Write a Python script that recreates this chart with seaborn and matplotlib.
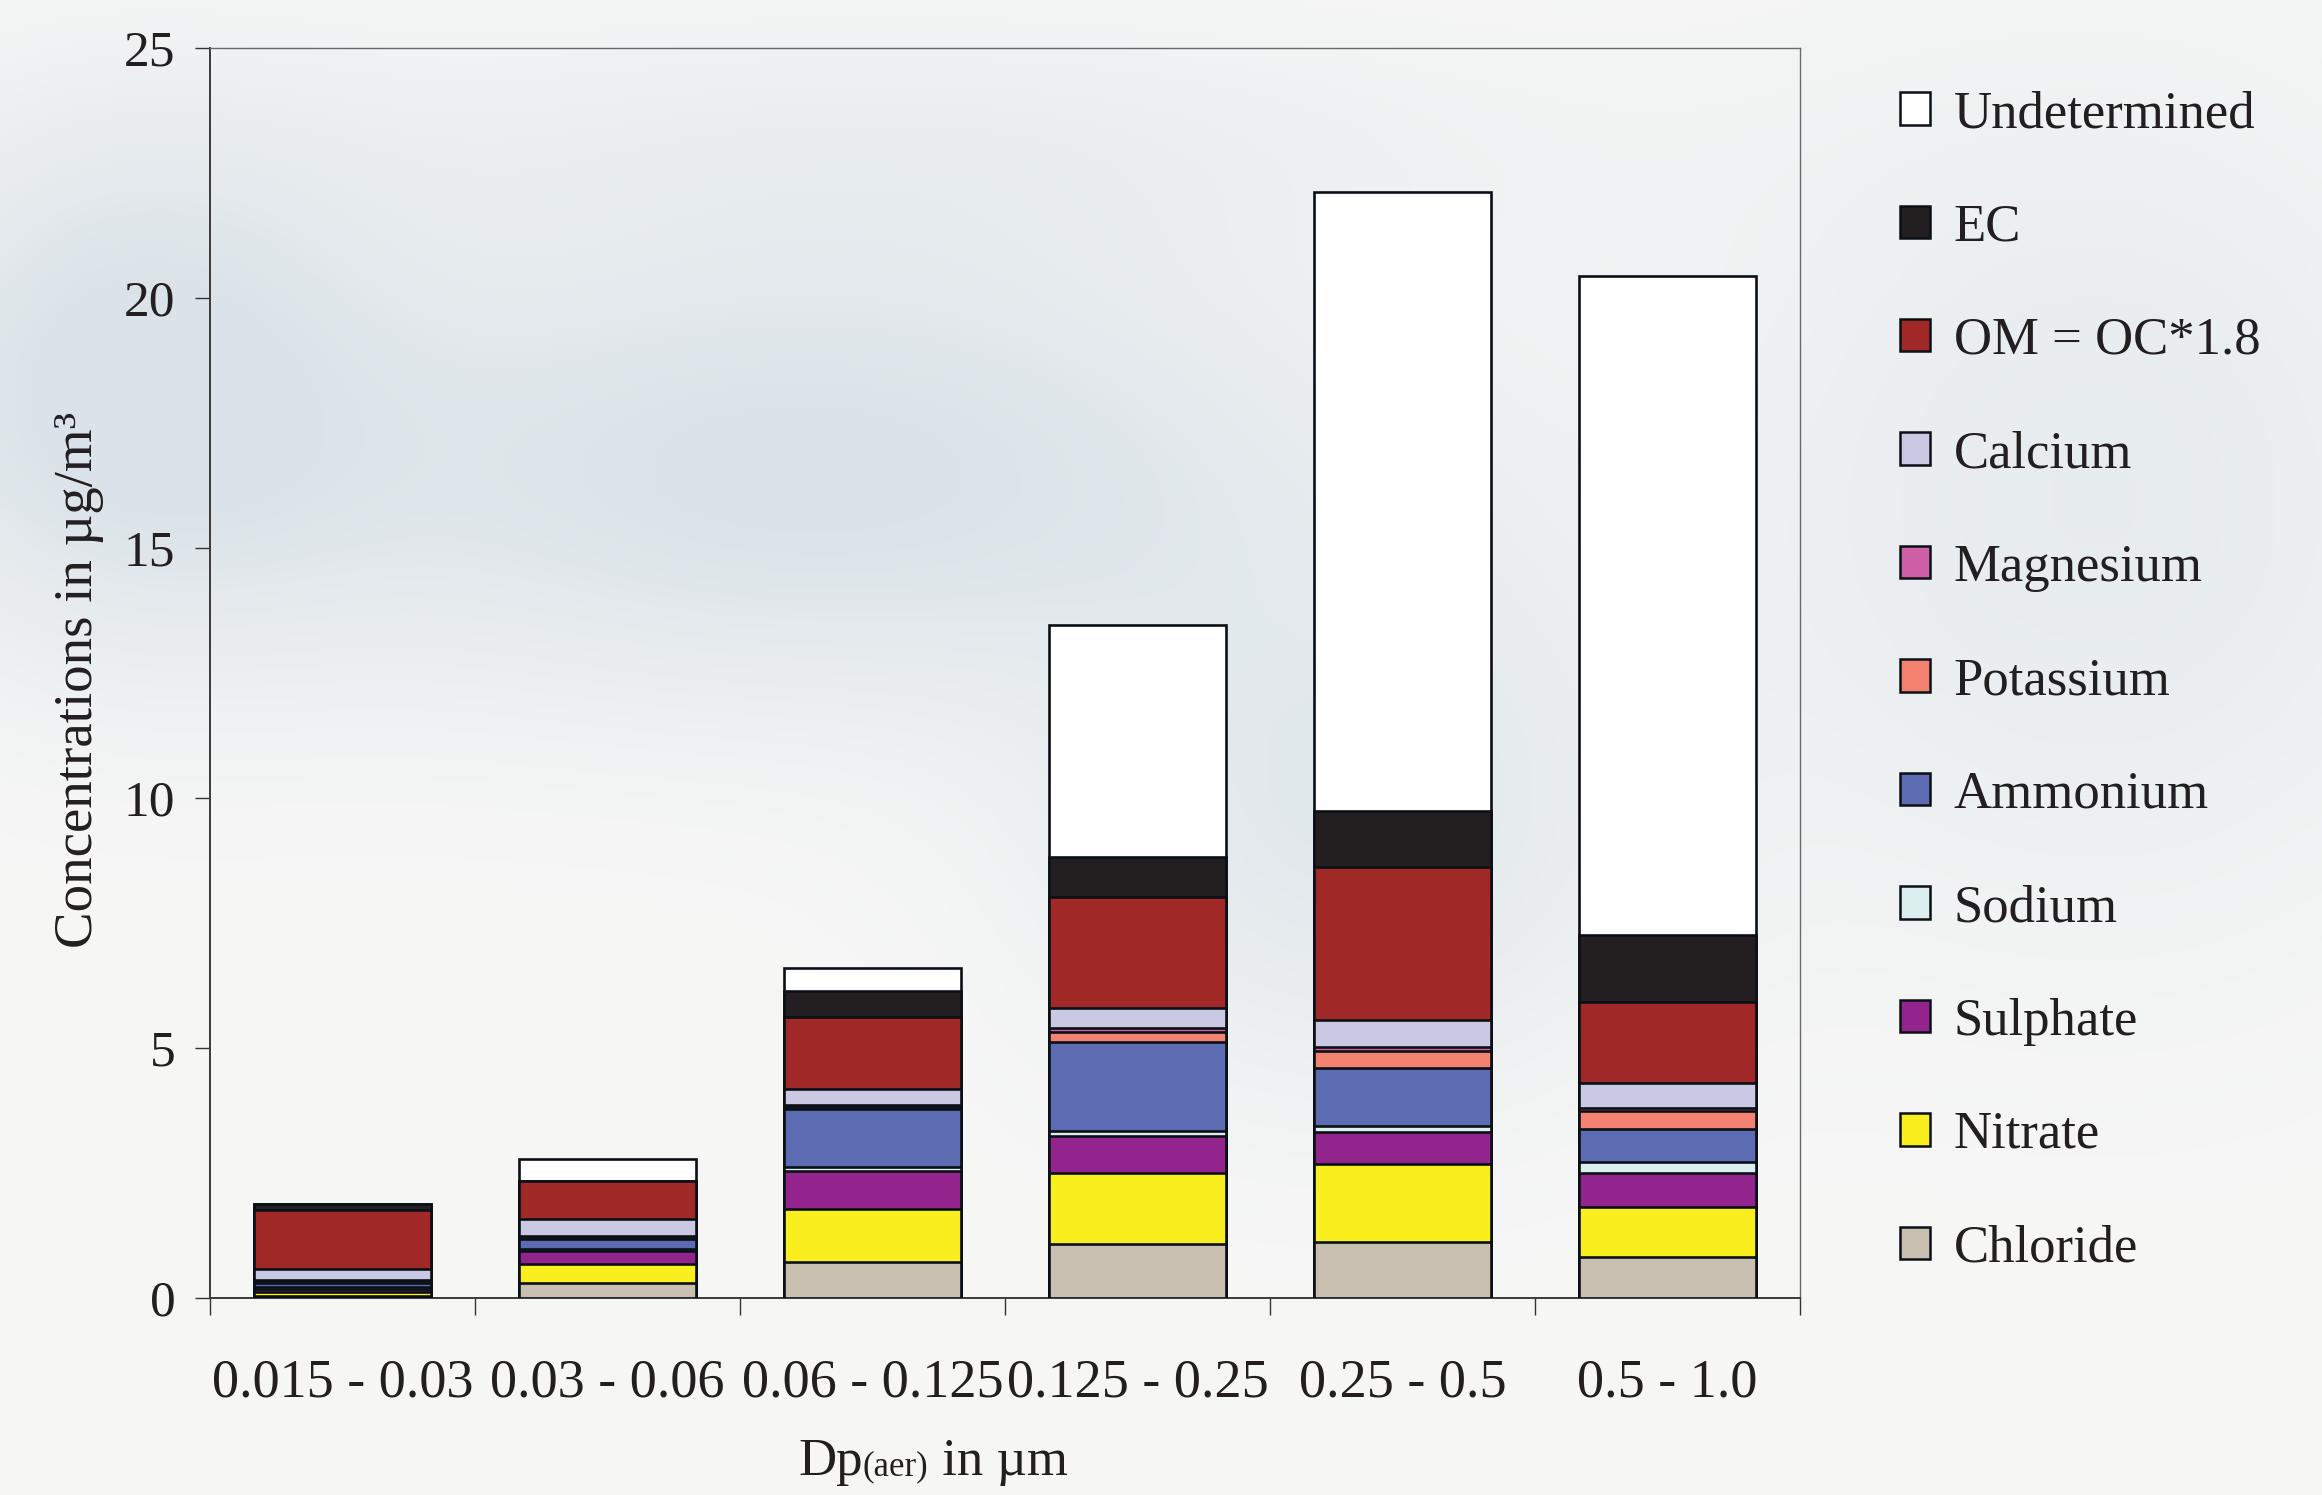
import numpy as np
import pandas as pd
import matplotlib
matplotlib.use("Agg")
import matplotlib.pyplot as plt
from matplotlib.patches import Patch
from matplotlib.offsetbox import TextArea, HPacker, AnchoredOffsetbox
import seaborn as sns

# Size-resolved aerosol composition (µg/m³), one list per component, bottom to top
size_bins = ["0.015 - 0.03", "0.03 - 0.06", "0.06 - 0.125", "0.125 - 0.25", "0.25 - 0.5", "0.5 - 1.0"]
chloride      = [0.04, 0.30, 0.71, 1.08, 1.12, 0.81]
nitrate       = [0.07, 0.37, 1.06, 1.42, 1.56, 1.00]
sulphate      = [0.07, 0.27, 0.77, 0.74, 0.63, 0.69]
sodium        = [0.04, 0.04, 0.07, 0.09, 0.13, 0.22]
ammonium      = [0.07, 0.20, 1.16, 1.79, 1.15, 0.65]
potassium     = [0.04, 0.03, 0.05, 0.20, 0.35, 0.37]
magnesium     = [0.03, 0.03, 0.03, 0.07, 0.07, 0.05]
calcium       = [0.22, 0.33, 0.32, 0.40, 0.54, 0.50]
organic_mat   = [1.18, 0.77, 1.45, 2.23, 3.06, 1.63]
elemental_c   = [0.11, 0.00, 0.51, 0.80, 1.12, 1.34]
undetermined  = [0.00, 0.43, 0.47, 4.64, 12.39, 13.18]

components = ["Chloride", "Nitrate", "Sulphate", "Sodium", "Ammonium", "Potassium",
              "Magnesium", "Calcium", "OM = OC*1.8", "EC", "Undetermined"]
colours = ["#c8bfb1", "#f9ef1e", "#93248e", "#dbefee", "#5d6bb2", "#f48270",
           "#cc5fa5", "#c9c9e4", "#a02826", "#231f20", "#ffffff"]
series = [chloride, nitrate, sulphate, sodium, ammonium, potassium,
          magnesium, calcium, organic_mat, elemental_c, undetermined]

sns.set_theme(style="white")
plt.rcParams["font.family"] = ["Liberation Serif", "DejaVu Serif"]

W, H = 2322, 1495
fig = plt.figure(figsize=(W / 100, H / 100), dpi=100)
ink = "#231f20"

# soft cloudy-sky backdrop
yy, xx = np.mgrid[0:H:4, 0:W:4].astype(float)
base = np.array([247, 247, 246], float)
shade = np.zeros_like(xx)
def blob(cx, cy, sx, sy, a):
    return a * np.exp(-(((xx - cx) / sx) ** 2 + ((yy - cy) / sy) ** 2))
shade += blob(800, 470, 560, 230, 1.0)
shade += blob(120, 380, 260, 260, 0.9)
shade += blob(1350, 820, 300, 260, 0.7)
shade += blob(2100, 500, 380, 420, 0.55)
shade += blob(900, 150, 700, 140, 0.35)
shade = np.clip(shade, 0, 1)
target = np.array([218, 227, 233], float)
img = base[None, None, :] * (1 - shade[..., None]) + target[None, None, :] * shade[..., None]
bg = fig.add_axes([0, 0, 1, 1], zorder=-10)
bg.imshow(img.astype(np.uint8), aspect="auto", extent=[0, 1, 0, 1], interpolation="bicubic")
bg.set_axis_off()

ax = fig.add_axes([210 / W, 1 - 1298 / H, (1800 - 210) / W, (1298 - 47.5) / H])
ax.set_facecolor("none")

# stacked bars: draw cumulative totals from the top component down
df = pd.DataFrame({name: vals for name, vals in zip(components, series)}, index=size_bins)
cum = df.cumsum(axis=1)
for name, col in reversed(list(zip(components, colours))):
    sns.barplot(x=size_bins, y=cum[name].values, color=col, width=0.67, saturation=1,
                edgecolor="#0b1016", linewidth=1.9, ax=ax, zorder=3)

ax.set_ylim(0, 25)
ax.set_xlim(-0.5, 5.5)
ax.set_yticks([0, 5, 10, 15, 20, 25])
ax.set_xticks(np.arange(-0.5, 6, 1.0))
ax.set_xticklabels([])
ax.set_xticks(np.arange(6), minor=True)
ax.set_xticklabels(size_bins, minor=True)
ax.tick_params(axis="y", which="major", direction="out", length=11, width=1.0,
               color="#333333", labelsize=37, pad=14, left=True)
ax.tick_params(axis="x", which="major", direction="out", length=12, width=1.0,
               color="#333333", bottom=True)
ax.tick_params(axis="x", which="minor", length=0, labelsize=39, pad=43)
for lbl in ax.get_yticklabels() + ax.get_xticklabels(minor=True):
    lbl.set_color(ink)
ax.set_xlabel("")
ax.set_ylabel("")
for side, sp in ax.spines.items():
    sp.set_visible(True)
    sp.set_color("#3a3a3a" if side in ("left", "bottom") else "#6a6a6a")
    sp.set_linewidth(1.4 if side in ("left", "bottom") else 1.0)

fig.text(79 / W, 1 - 680 / H, "Concentrations in µg/m³", rotation=90, ha="center",
         va="center", fontsize=39.5, color=ink)

# x-axis title with a small "(aer)" set on the baseline
xlabel_box = HPacker(children=[TextArea("Dp", textprops=dict(fontsize=38, color=ink)),
                               TextArea("(aer)", textprops=dict(fontsize=25, color=ink)),
                               TextArea(" in µm", textprops=dict(fontsize=38, color=ink))],
                     align="baseline", pad=0, sep=0)
fig.add_artist(AnchoredOffsetbox(loc="center", child=xlabel_box, frameon=False, pad=0,
                                 borderpad=0, bbox_to_anchor=(933 / W, 1 - 1462 / H),
                                 bbox_transform=fig.transFigure))

handles = [Patch(facecolor=c, edgecolor="#0b1016", linewidth=1.8)
           for c in reversed(colours)]
fig.legend(handles, list(reversed(components)), loc="upper left",
           bbox_to_anchor=(1900 / W, 1 - 90 / H), frameon=False, fontsize=38,
           handlelength=0.57, handleheight=0.57, handletextpad=0.45,
           labelspacing=1.24, borderpad=0, borderaxespad=0, labelcolor=ink)

fig.savefig("out.png", dpi=100)
